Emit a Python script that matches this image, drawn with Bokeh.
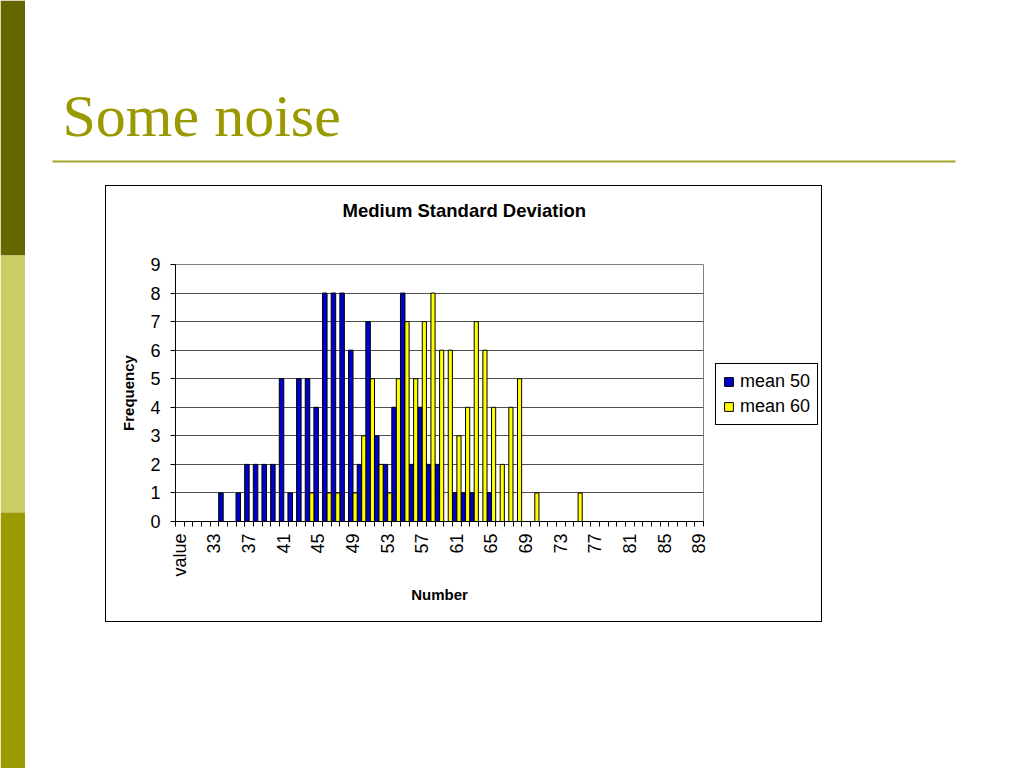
from bokeh.plotting import figure
from bokeh.models import Range1d, FixedTicker, Legend, LegendItem, Spacer, ColumnDataSource
from bokeh.layouts import row, column
from bokeh.transform import dodge
from bokeh.embed import file_html
from bokeh.resources import INLINE
from bokeh.core.properties import value

# ---------------- data ----------------
slide_title = "Some noise"
chart_title = "Medium Standard Deviation"
x_title = "Number"
y_title = "Frequency"

categories = ["value"] + [str(v) for v in range(30, 90)]

mean50 = [0, 0, 0, 0, 0, 1, 0, 1, 2, 2,
          2, 2, 5, 1, 5, 5, 4, 8, 8, 8,
          6, 2, 7, 3, 2, 4, 8, 2, 4, 2,
          2, 0, 1, 1, 1, 0, 1, 0, 0, 0,
          0, 0, 0, 0, 0, 0, 0, 0, 0, 0,
          0, 0, 0, 0, 0, 0, 0, 0, 0, 0,
          0]
mean60 = [0, 0, 0, 0, 0, 0, 0, 0, 0, 0,
          0, 0, 0, 0, 0, 1, 0, 1, 1, 0,
          1, 3, 5, 2, 1, 5, 7, 5, 7, 8,
          6, 6, 3, 4, 7, 6, 4, 2, 4, 5,
          0, 1, 0, 0, 0, 0, 1, 0, 0, 0,
          0, 0, 0, 0, 0, 0, 0, 0, 0, 0,
          0]
series_names = ["mean 50", "mean 60"]
series_colors = ["#0000CC", "#FFFF00"]
y_ticks = list(range(0, 10))

FONT = "Liberation Sans"
OLIVE = "#999900"


def blank(w, h, xr, yr):
    f = figure(width=w, height=h, output_backend="svg", toolbar_location=None,
               x_range=Range1d(*xr), y_range=Range1d(*yr),
               min_border=0, x_axis_type=None, y_axis_type=None)
    f.outline_line_color = None
    f.grid.visible = False
    f.background_fill_color = "white"
    f.border_fill_color = "white"
    return f


# ---------------- left strip ----------------
strip = blank(25, 768, (0, 25), (768, 0))
strip.quad(left=[0, 0, 0], right=[25, 25, 25], top=[0, 255, 512], bottom=[255, 512, 768],
           fill_color=["#666600", "#CCCC66", "#999900"], line_color=None)

# ---------------- header ----------------
header = blank(991, 185, (25, 1016), (185, 0))
header.text(x=[62], y=[115], text=[slide_title], text_font=value("Liberation Serif"),
            text_font_size="60px", text_color=OLIVE, text_baseline="alphabetic",
            text_align="left")
header.segment(x0=[52], y0=[161], x1=[955], y1=[161], line_color="#A3A32A", line_width=2)

# ---------------- chart title strip (inside the box) ----------------
tfig = blank(715, 40, (106, 821), (226, 186))
tfig.text(x=[342], y=[210], text=[chart_title], text_font=value(FONT),
          text_font_size="18.5px", text_font_style="bold", text_color="black",
          text_align="left", text_baseline="middle")

# ---------------- chart ----------------
idx = list(range(len(categories)))
src = ColumnDataSource(data=dict(idx=idx, cat=categories, m50=mean50, m60=mean60))

chart = figure(width=607, height=395, output_backend="svg", toolbar_location=None,
               x_range=Range1d(-0.5, len(categories) - 0.5), y_range=Range1d(0, 9),
               min_border_left=69, min_border_right=10, min_border_top=38, min_border_bottom=100)
chart.background_fill_color = "white"
chart.border_fill_color = "white"
chart.outline_line_color = "#808080"

r1 = chart.vbar(x=dodge("idx", -0.25, range=chart.x_range), top="m50", width=0.52, source=src,
                fill_color=series_colors[0], line_color="black", line_width=1)
r2 = chart.vbar(x=dodge("idx", 0.25, range=chart.x_range), top="m60", width=0.48, source=src,
                fill_color=series_colors[1], line_color="black", line_width=1)

chart.xgrid.visible = False
chart.ygrid.grid_line_color = "#505050"
chart.ygrid.ticker = FixedTicker(ticks=y_ticks)

xa = chart.xaxis[0]
xa.ticker = FixedTicker(ticks=idx[::4], minor_ticks=[i - 0.5 for i in range(len(categories) + 1)])
xa.major_label_overrides = {i: categories[i] for i in idx[::4]}
xa.major_label_orientation = 3.14159265 / 2
xa.major_tick_line_color = None
xa.minor_tick_line_color = "black"
xa.minor_tick_in = 0
xa.minor_tick_out = 5
xa.major_label_standoff = 6
xa.major_label_text_font = FONT
xa.major_label_text_font_size = "18px"
xa.major_label_text_color = "black"
xa.axis_line_color = "black"
xa.axis_label = x_title
xa.axis_label_text_font = FONT
xa.axis_label_text_font_style = "bold"
xa.axis_label_text_font_size = "15px"
xa.axis_label_text_color = "black"
xa.axis_label_standoff = 6

ya = chart.yaxis[0]
ya.ticker = FixedTicker(ticks=y_ticks)
ya.major_tick_in = 0
ya.major_tick_out = 5
ya.minor_tick_line_color = None
ya.major_label_standoff = 10
ya.major_label_text_font = FONT
ya.major_label_text_font_size = "18px"
ya.major_label_text_color = "black"
ya.axis_line_color = "black"
ya.axis_label = y_title
ya.axis_label_text_font = FONT
ya.axis_label_text_font_style = "bold"
ya.axis_label_text_font_size = "15px"
ya.axis_label_text_color = "black"
ya.axis_label_standoff = 10

# ---------------- legend (own small canvas to the right of the plot) ----------------
legfig = blank(108, 80, (0, 1), (0, 1))
offview = ColumnDataSource(data=dict(x=[10], top=[10]))
l1 = legfig.vbar(x="x", top="top", width=0.5, source=offview,
                 fill_color=series_colors[0], line_color="black", line_width=1)
l2 = legfig.vbar(x="x", top="top", width=0.5, source=offview,
                 fill_color=series_colors[1], line_color="black", line_width=1)
legend = Legend(items=[LegendItem(label=series_names[0], renderers=[l1], index=0),
                       LegendItem(label=series_names[1], renderers=[l2], index=0)],
                location="top_left", orientation="vertical")
legend.label_text_font = FONT
legend.label_text_font_size = "18px"
legend.label_text_color = "black"
legend.glyph_width = 11
legend.glyph_height = 11
legend.label_standoff = 6
legend.label_height = 20
legend.spacing = 4
legend.padding = 7
legend.margin = 2
legend.border_line_color = "black"
legend.border_line_alpha = 1.0
legend.border_line_width = 1
legend.background_fill_color = "white"
legend.background_fill_alpha = 1.0
legfig.add_layout(legend, "center")

right_col = column(Spacer(width=108, height=135), legfig, Spacer(width=108, height=180))

# ---------------- chart box border ----------------
def bar(w, h):
    return Spacer(width=w, height=h, styles={"background-color": "black"})

inner = column(bar(715, 1), tfig, row(chart, right_col), bar(715, 1))
box = row(bar(1, 437), inner, bar(1, 437))

body = column(header, row(Spacer(width=80, height=437), box), Spacer(width=991, height=146))
page = row(strip, body)

open("out.html", "w").write(file_html(page, INLINE))
